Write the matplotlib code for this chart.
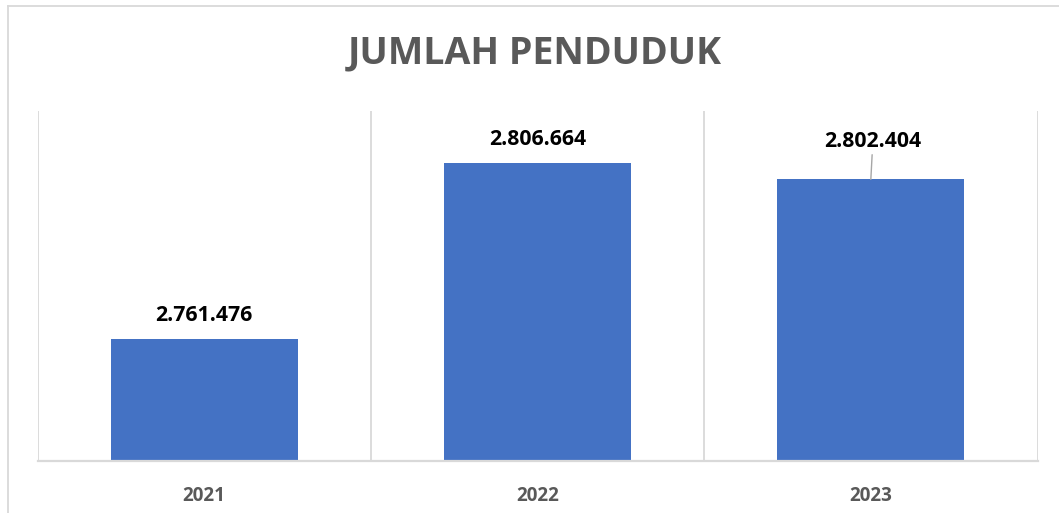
import matplotlib
matplotlib.use("Agg")
import matplotlib.pyplot as plt
from matplotlib.lines import Line2D

years = ["2021", "2022", "2023"]
population = [2761476, 2806664, 2802404]
labels = ["2.761.476", "2.806.664", "2.802.404"]
title = "JUMLAH PENDUDUK"

BAR = "#4472C4"
GRID = "#D9D9D9"
TXT = "#595959"

plt.rcParams['font.family'] = ['Open Sans', 'DejaVu Sans']

fig = plt.figure(figsize=(10.59, 5.13), dpi=100)
ax = fig.add_axes([37.5 / 1059, 1 - 461 / 513, 1000 / 1059, 350 / 513])

x = list(range(len(years)))
ax.bar(x, population, width=0.56, color=BAR, zorder=2)
ax.set_xlim(-0.5, len(years) - 0.5)
ax.set_ylim(2730000, 2820000)

ax.set_xticks(x)
ax.set_xticklabels(years, fontsize=13.5, fontweight='bold', color=TXT)
ax.set_xticks([i - 0.5 for i in range(len(years) + 1)], minor=True)
ax.tick_params(axis='x', which='both', length=0, pad=18)
ax.set_yticks([])
ax.grid(axis='x', which='minor', color=GRID, linewidth=1.3, zorder=0)
for s in ['left', 'right', 'top']:
    ax.spines[s].set_visible(False)
ax.spines['bottom'].set_color(GRID)
ax.spines['bottom'].set_linewidth(1.6)
ax.spines['bottom'].set_zorder(3)

offsets = [(0, 23), (0, 23), (2, 38)]
for i, (v, lab) in enumerate(zip(population, labels)):
    dx, dy = offsets[i]
    arrow = None
    if dy > 30:
        arrow = dict(arrowstyle='-', color='#A6A6A6', lw=1.0, shrinkA=0, shrinkB=0)
    ax.annotate(lab, xy=(x[i], v), xytext=(dx, dy), textcoords='offset pixels',
                ha='center', va='center', fontsize=15.3, fontweight='bold',
                color='black', arrowprops=arrow, annotation_clip=False)

fig.text(535 / 1059, 1 - 53 / 513, title, ha='center', va='center',
         fontsize=27, fontweight='bold', color=TXT)

# chart area border (top and left edges visible)
fig.add_artist(Line2D([8 / 1059, 8 / 1059], [0, 1 - 6 / 513], transform=fig.transFigure,
                      color=GRID, lw=1.3))
fig.add_artist(Line2D([8 / 1059, 1], [1 - 6 / 513, 1 - 6 / 513], transform=fig.transFigure,
                      color=GRID, lw=1.3))

fig.savefig("out.png", dpi=100, facecolor='white')
